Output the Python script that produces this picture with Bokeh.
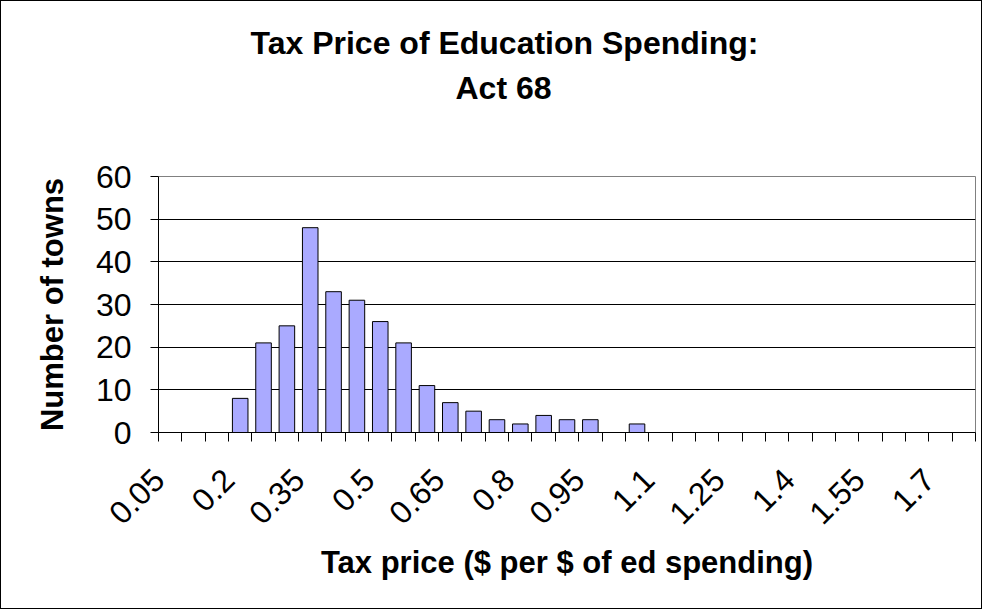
import math
from bokeh.plotting import figure
from bokeh.models import Range1d, FixedTicker, Title, LinearAxis, ColumnDataSource
from bokeh.embed import file_html
from bokeh.resources import INLINE

# ---- data ----
tax_price = [0.05, 0.10, 0.15, 0.20, 0.25, 0.30, 0.35, 0.40, 0.45, 0.50,
             0.55, 0.60, 0.65, 0.70, 0.75, 0.80, 0.85, 0.90, 0.95, 1.00,
             1.05, 1.10, 1.15, 1.20, 1.25, 1.30, 1.35, 1.40, 1.45, 1.50,
             1.55, 1.60, 1.65, 1.70, 1.75]
towns = [0, 0, 0, 8, 21, 25, 48, 33, 31, 26,
         21, 11, 7, 5, 3, 2, 4, 3, 3, 0,
         2, 0, 0, 0, 0, 0, 0, 0, 0, 0,
         0, 0, 0, 0, 0]
tick_labels = ["0.05", "0.2", "0.35", "0.5", "0.65", "0.8", "0.95",
               "1.1", "1.25", "1.4", "1.55", "1.7"]
y_ticks = [0, 10, 20, 30, 40, 50, 60]

title_line1 = "Tax Price of Education Spending:"
title_line2 = "Act 68"
x_title = "Tax price ($ per $ of ed spending)"
y_title = "Number of towns"

FONT = "Liberation Sans"
BIN = 0.05
X_MIN = tax_price[0] - BIN / 2
X_MAX = tax_price[-1] + BIN / 2
LABEL_SHIFT = 0.49 * BIN   # rotated labels end a little left of the category centre

src = ColumnDataSource(dict(x=tax_price, top=towns))

p = figure(width=982, height=609, output_backend="svg", toolbar_location=None,
           x_range=Range1d(X_MIN, X_MAX),
           y_range=Range1d(0, 60),
           min_border_left=157, min_border_right=8,
           min_border_top=175, min_border_bottom=178,
           background_fill_color="white", border_fill_color="white",
           styles={"border": "1px solid black"})

p.vbar(x="x", top="top", bottom=0, width=BIN / 1.5, source=src,
       fill_color="#AAAAFF", line_color="black", line_width=1)

# grid
p.xgrid.visible = False
p.ygrid.ticker = FixedTicker(ticks=y_ticks[1:-1])
p.ygrid.grid_line_color = "black"
p.ygrid.grid_line_width = 1
p.outline_line_color = "#808080"
p.outline_line_width = 1

# x axis: labels near category centres, tick marks at category boundaries
bounds = [v - BIN / 2 for v in tax_price] + [tax_price[-1] + BIN / 2]
tick_vals = [float(s) - LABEL_SHIFT for s in tick_labels]
xa = p.xaxis[0]
xa.ticker = FixedTicker(ticks=tick_vals, minor_ticks=bounds)
xa.major_label_overrides = {v: s for v, s in zip(tick_vals, tick_labels)}
xa.major_label_orientation = math.pi / 4
xa.major_tick_line_color = None
xa.major_tick_out = 0
xa.major_tick_in = 0
xa.minor_tick_line_color = "black"
xa.minor_tick_out = 9
xa.minor_tick_in = 0
xa.axis_line_color = "black"
xa.major_label_text_font = FONT
xa.major_label_text_font_size = "32px"
xa.major_label_text_color = "black"
xa.major_label_standoff = 33
xa.axis_label = x_title
xa.axis_label_text_font = FONT
xa.axis_label_text_font_size = "31px"
xa.axis_label_text_font_style = "bold"
xa.axis_label_text_color = "black"
xa.axis_label_standoff = 8

ya = p.yaxis[0]
ya.ticker = FixedTicker(ticks=y_ticks)
ya.minor_tick_line_color = None
ya.major_tick_line_color = "black"
ya.major_tick_out = 8
ya.major_tick_in = 0
ya.axis_line_color = "black"
ya.major_label_text_font = FONT
ya.major_label_text_font_size = "32px"
ya.major_label_text_color = "black"
ya.major_label_standoff = 19
ya.axis_label = y_title
ya.axis_label_text_font = FONT
ya.axis_label_text_font_size = "31px"
ya.axis_label_text_font_style = "bold"
ya.axis_label_text_color = "black"
ya.axis_label_standoff = 23

# blank spacer between the plot area and the two-line title
spacer = LinearAxis(ticker=FixedTicker(ticks=[X_MIN]), axis_line_color=None,
                    major_tick_line_color="white", minor_tick_line_color=None,
                    major_tick_out=69, major_tick_in=0,
                    minor_tick_out=0, minor_tick_in=0,
                    major_label_text_color=None, major_label_text_font_size="1px",
                    major_label_standoff=0)
p.add_layout(spacer, "above")

t2 = Title(text=title_line2, align="left", offset=297, text_font=FONT,
           text_font_size="32px", text_font_style="bold", text_color="black",
           standoff=4)
t1 = Title(text=title_line1, align="left", offset=92, text_font=FONT,
           text_font_size="32px", text_font_style="bold", text_color="black",
           standoff=10)
p.add_layout(t2, "above")
p.add_layout(t1, "above")

open("out.html", "w").write(file_html(p, INLINE))
